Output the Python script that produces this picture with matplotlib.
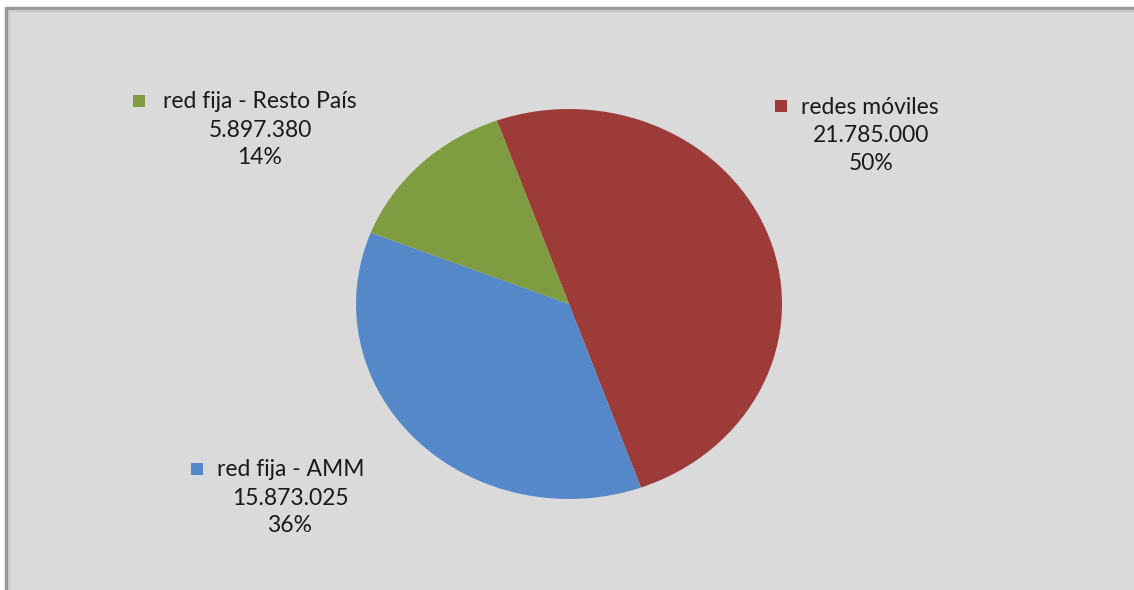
import matplotlib.pyplot as plt
from matplotlib.patches import Rectangle

# data
labels = ["redes móviles", "red fija - AMM", "red fija - Resto País"]
values = [21785000, 15873025, 5897380]
value_text = ["21.785.000", "15.873.025", "5.897.380"]
colors = ["#9d3b38", "#5588c8", "#7f9c40"]

W, H = 1134, 590
fig = plt.figure(figsize=(W / 100, H / 100), dpi=100)
fig.patch.set_facecolor("white")

# chart area background with border (open at right and bottom, cropped)
fig.patches.append(Rectangle((6 / W, -0.1), 1, 1.1 - 8 / H, transform=fig.transFigure,
                             facecolor="#dadada", edgecolor="#9a9a9a",
                             linewidth=2.5, zorder=-5))
fig.patches.append(Rectangle((9 / W, -0.1), 1, 1.1 - 11 / H, transform=fig.transFigure,
                             facecolor="none", edgecolor="#c8c8c8",
                             linewidth=1, zorder=-4))

# pie axes (slightly elliptical like the original)
cx, cy, rx, ry = 569, 304, 213, 195
ax = fig.add_axes([(cx - rx) / W, (H - cy - ry) / H, 2 * rx / W, 2 * ry / H])
ax.set_zorder(2)
ax.patch.set_alpha(0)
ax.pie(values, colors=colors, startangle=109.8, counterclock=False,
       wedgeprops=dict(linewidth=0))
ax.set_aspect("auto")
ax.set_xlim(-1, 1)
ax.set_ylim(-1, 1)
ax.axis("off")

total = sum(values)
# label layout: (square x, square y, first line start x, block center x, first line y)
pos = [(775, 106, 801, 871, 107),
       (191, 469, 217, 290, 470),
       (133, 101, 163, 260, 102)]
fnt = dict(family=["Lato", "DejaVu Sans"], fontsize=16.5, color="#1a1a1a")
for i, (sx, sy, tx, mx, ty) in enumerate(pos):
    fig.patches.append(Rectangle((sx / W, (H - sy - 6) / H), 12 / W, 12 / H,
                                 transform=fig.transFigure, facecolor=colors[i],
                                 edgecolor="none", zorder=3))
    fig.text(tx / W, 1 - ty / H, labels[i], ha="left", va="center", **fnt)
    fig.text(mx / W, 1 - (ty + 28.5) / H, value_text[i], ha="center", va="center", **fnt)
    pct = round(values[i] / total * 100)
    fig.text(mx / W, 1 - (ty + 56) / H, f"{pct}%", ha="center", va="center", **fnt)

fig.savefig("out.png", dpi=100)
